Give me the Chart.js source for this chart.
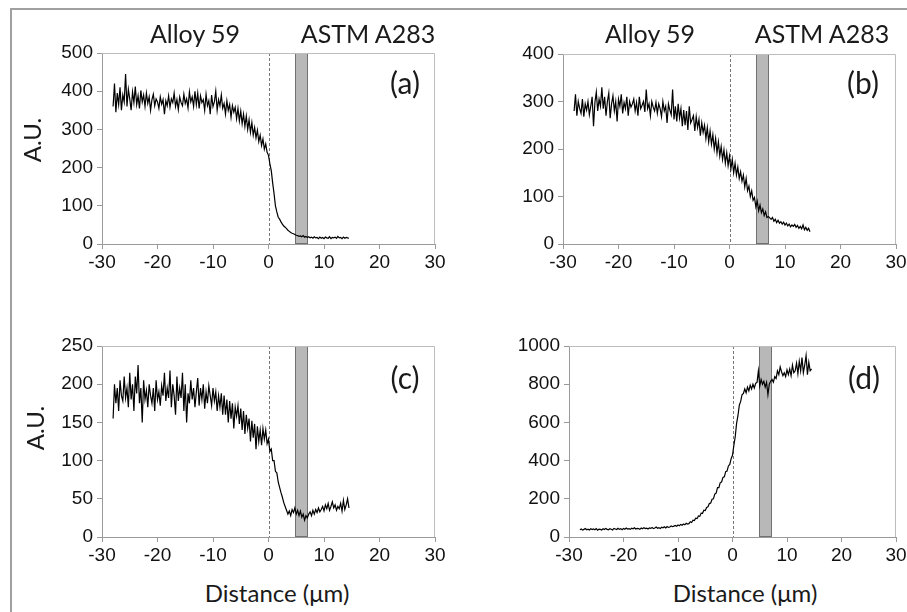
<!DOCTYPE html>
<html>
<head>
<meta charset="utf-8">
<script src="https://cdn.jsdelivr.net/npm/chart.js@4.4.1/dist/chart.umd.min.js"></script>
<style>
body{margin:0;background:#fff;width:907px;height:612px;overflow:hidden;position:relative;font-family:Lato,"Open Sans",sans-serif}
.frame{position:absolute;left:10px;top:8px;width:1000px;height:1000px;border-left:2px solid #a0a0a0;border-top:2px solid #a0a0a0}
canvas{position:absolute}
.lbl{position:absolute;transform:translate(-50%,-50%);white-space:nowrap;color:#1a1a1a;font-size:25px;line-height:1}
.rot{transform:translate(-50%,-50%) rotate(-90deg);font-size:24px}
.tag{font-size:30px}
.axt{font-size:24px}
</style>
</head>
<body>
<div class="frame"></div>
<canvas id="pa" width="438" height="251" style="left:22px;top:33px"></canvas>
<canvas id="pb" width="438" height="250" style="left:483px;top:34px"></canvas>
<canvas id="pc" width="438" height="251" style="left:22px;top:326px"></canvas>
<canvas id="pd" width="432" height="251" style="left:489px;top:326px"></canvas>

<div class="lbl" style="left:195px;top:33px">Alloy 59</div>
<div class="lbl" style="left:368px;top:33px">ASTM A283</div>
<div class="lbl" style="left:650px;top:33px">Alloy 59</div>
<div class="lbl" style="left:822px;top:33px">ASTM A283</div>
<div class="lbl tag" style="left:405px;top:82px">(a)</div>
<div class="lbl tag" style="left:863px;top:82px">(b)</div>
<div class="lbl tag" style="left:405px;top:377px">(c)</div>
<div class="lbl tag" style="left:864px;top:377px">(d)</div>
<div class="lbl rot" style="left:32px;top:140px">A.U.</div>
<div class="lbl rot" style="left:35px;top:428px">A.U.</div>
<div class="lbl axt" style="left:277px;top:593px">Distance (μm)</div>
<div class="lbl axt" style="left:745px;top:593px">Distance (μm)</div>

<script>
// distance along the line scan (µm)
const distance = [
-28,-27.75,-27.5,-27.25,-27,-26.75,-26.5,-26.25,-26,-25.75,
-25.5,-25.25,-25,-24.75,-24.5,-24.25,-24,-23.75,-23.5,-23.25,
-23,-22.75,-22.5,-22.25,-22,-21.75,-21.5,-21.25,-21,-20.75,
-20.5,-20.25,-20,-19.75,-19.5,-19.25,-19,-18.75,-18.5,-18.25,
-18,-17.75,-17.5,-17.25,-17,-16.75,-16.5,-16.25,-16,-15.75,
-15.5,-15.25,-15,-14.75,-14.5,-14.25,-14,-13.75,-13.5,-13.25,
-13,-12.75,-12.5,-12.25,-12,-11.75,-11.5,-11.25,-11,-10.75,
-10.5,-10.25,-10,-9.75,-9.5,-9.25,-9,-8.75,-8.5,-8.25,
-8,-7.75,-7.5,-7.25,-7,-6.75,-6.5,-6.25,-6,-5.75,
-5.5,-5.25,-5,-4.75,-4.5,-4.25,-4,-3.75,-3.5,-3.25,
-3,-2.75,-2.5,-2.25,-2,-1.75,-1.5,-1.25,-1,-0.75,
-0.5,-0.25,0,0.25,0.5,0.75,1,1.25,1.5,1.75,
2,2.25,2.5,2.75,3,3.25,3.5,3.75,4,4.25,
4.5,4.75,5,5.25,5.5,5.75,6,6.25,6.5,6.75,
7,7.25,7.5,7.75,8,8.25,8.5,8.75,9,9.25,
9.5,9.75,10,10.25,10.5,10.75,11,11.25,11.5,11.75,
12,12.25,12.5,12.75,13,13.25,13.5,13.75,14,14.25,
14.5];

const profileA = [
360,420,345,395,365,410,350,390,372,445,
360,405,380,350,398,370,412,365,388,355,
402,372,390,360,395,368,385,350,378,392,
362,380,372,355,385,366,378,340,375,362,
388,358,380,370,395,360,378,352,385,370,
362,392,368,380,356,398,372,385,360,400,
365,395,355,388,370,378,350,392,362,375,
340,390,360,372,400,350,378,362,390,355,
368,340,375,350,365,332,362,345,358,328,
355,322,348,315,340,308,335,300,325,292,
318,285,305,278,298,268,285,258,275,248,
262,240,232,210,192,160,132,100,84,70,
65,58,52,47,44,40,36,33,30,28,
27,25,23,22,20,21,19,22,18,20,
17,19,16,18,15,19,16,17,14,18,
15,17,14,18,16,15,19,14,17,16,
18,15,20,16,17,14,18,15,17,16,
15];

const profileB = [
280,315,270,300,285,275,305,268,295,282,
300,272,290,310,248,298,320,280,305,290,
330,285,310,270,300,318,265,295,312,280,
300,258,305,290,315,275,298,285,310,270,
300,288,295,305,280,298,270,310,285,292,
300,278,325,285,295,270,300,288,280,298,
275,295,285,268,300,280,290,255,295,282,
272,325,262,290,258,295,265,285,248,282,
250,280,240,290,255,262,270,238,268,245,
262,228,255,235,250,222,245,215,238,210,
230,200,222,192,215,185,205,178,198,170,
192,165,185,158,178,150,170,145,162,138,
152,132,145,120,138,112,122,100,112,92,
98,78,90,70,82,66,74,60,68,56,
58,55,52,56,48,52,45,50,44,47,
42,46,40,44,38,42,36,40,37,41,
35,39,33,37,32,40,30,35,29,33,
26];

const profileC = [
155,200,175,195,165,205,185,178,210,182,
195,170,215,180,200,165,210,188,225,175,
195,150,205,180,192,170,200,185,175,195,
165,205,180,190,172,198,185,215,178,195,
182,218,170,200,185,160,210,178,195,182,
215,165,200,150,188,175,205,180,195,170,
190,208,172,195,180,200,168,190,175,198,
185,172,195,178,190,165,185,170,188,160,
185,160,180,150,178,155,175,142,170,158,
172,148,168,140,165,135,160,142,155,125,
152,130,148,115,145,125,140,120,142,128,
140,122,128,112,115,100,100,86,84,72,
65,58,52,45,40,35,30,34,28,36,
32,38,30,35,28,34,26,30,22,28,
25,30,33,28,35,30,36,32,38,33,
36,40,34,42,37,44,35,40,46,38,
42,35,40,37,44,34,48,36,42,50,
38];

const profileD = [
38,42,36,40,44,38,41,37,43,39,
42,38,44,36,41,40,37,43,39,45,
40,38,44,41,37,45,42,39,46,40,
43,38,45,41,47,42,44,40,46,43,
48,42,45,44,40,47,43,49,44,46,
42,48,45,50,44,47,52,46,49,45,
51,48,53,47,55,50,52,58,54,57,
60,56,63,59,66,62,68,64,72,68,
70,80,76,88,86,98,96,110,108,125,
124,140,138,155,158,175,178,198,200,225,
230,258,258,285,288,312,315,342,345,372,
380,410,428,480,525,595,635,690,710,745,
752,775,755,785,765,795,775,800,780,805,
810,870,790,825,800,815,785,810,745,800,
815,825,810,840,830,870,850,890,865,845,
860,840,875,850,880,845,900,860,870,910,
855,920,870,940,860,900,950,850,915,870,
880];

// interface and shaded band (µm)
const interfaceAt = 0;
const bandFrom = 4.8;
const bandTo = 7.0;

const decor = {
  id: "decor",
  beforeDatasetsDraw(chart){
    const {ctx, chartArea: a, scales: {x}} = chart;
    ctx.save();
    const l = Math.round(x.getPixelForValue(bandFrom));
    const r = Math.round(x.getPixelForValue(bandTo));
    ctx.fillStyle = "#b8b8b8";
    ctx.fillRect(l, a.top, r - l, a.bottom - a.top);
    ctx.strokeStyle = "#707070";
    ctx.lineWidth = 1;
    ctx.strokeRect(l + 0.5, a.top + 0.5, r - l, a.bottom - a.top - 1);
    const z = Math.round(x.getPixelForValue(interfaceAt)) + 0.5;
    ctx.setLineDash([3, 2]);
    ctx.strokeStyle = "#777";
    ctx.beginPath(); ctx.moveTo(z, a.top); ctx.lineTo(z, a.bottom); ctx.stroke();
    ctx.setLineDash([]);
    ctx.strokeStyle = "#bdbdbd";
    ctx.beginPath();
    ctx.moveTo(a.left, a.top + 0.5);
    ctx.lineTo(a.right - 0.5, a.top + 0.5);
    ctx.lineTo(a.right - 0.5, a.bottom);
    ctx.stroke();
    ctx.restore();
  }
};

const tickFont = {family: "Liberation Sans", size: 19};

function makePanel(id, values, yMax, yStep){
  new Chart(document.getElementById(id), {
    type: "line",
    data: {
      datasets: [{
        data: distance.map((d, i) => ({x: d, y: values[i]})),
        borderColor: "#000",
        borderWidth: 1.2,
        pointRadius: 0,
        tension: 0
      }]
    },
    options: {
      responsive: false,
      animation: false,
      layout: {autoPadding: false, padding: {top: 20, right: 25, left: 0, bottom: 0}},
      plugins: {legend: {display: false}, tooltip: {enabled: false}},
      scales: {
        x: {
          type: "linear", min: -30, max: 30,
          ticks: {stepSize: 10, color: "#111", font: tickFont, padding: 2, maxRotation: 0},
          grid: {drawOnChartArea: false, tickLength: 5, color: "#9a9a9a"},
          border: {color: "#9a9a9a"},
          afterFit(s){ s.height = 40; }
        },
        y: {
          min: 0, max: yMax,
          ticks: {stepSize: yStep, color: "#111", font: tickFont, padding: 4, callback: v => String(v)},
          grid: {drawOnChartArea: false, tickLength: 5, color: "#9a9a9a"},
          border: {color: "#9a9a9a"},
          afterFit(s){ s.width = 80; }
        }
      }
    },
    plugins: [decor]
  });
}

makePanel("pa", profileA, 500, 100);
makePanel("pb", profileB, 400, 100);
makePanel("pc", profileC, 250, 50);
makePanel("pd", profileD, 1000, 200);
</script>
</body>
</html>
